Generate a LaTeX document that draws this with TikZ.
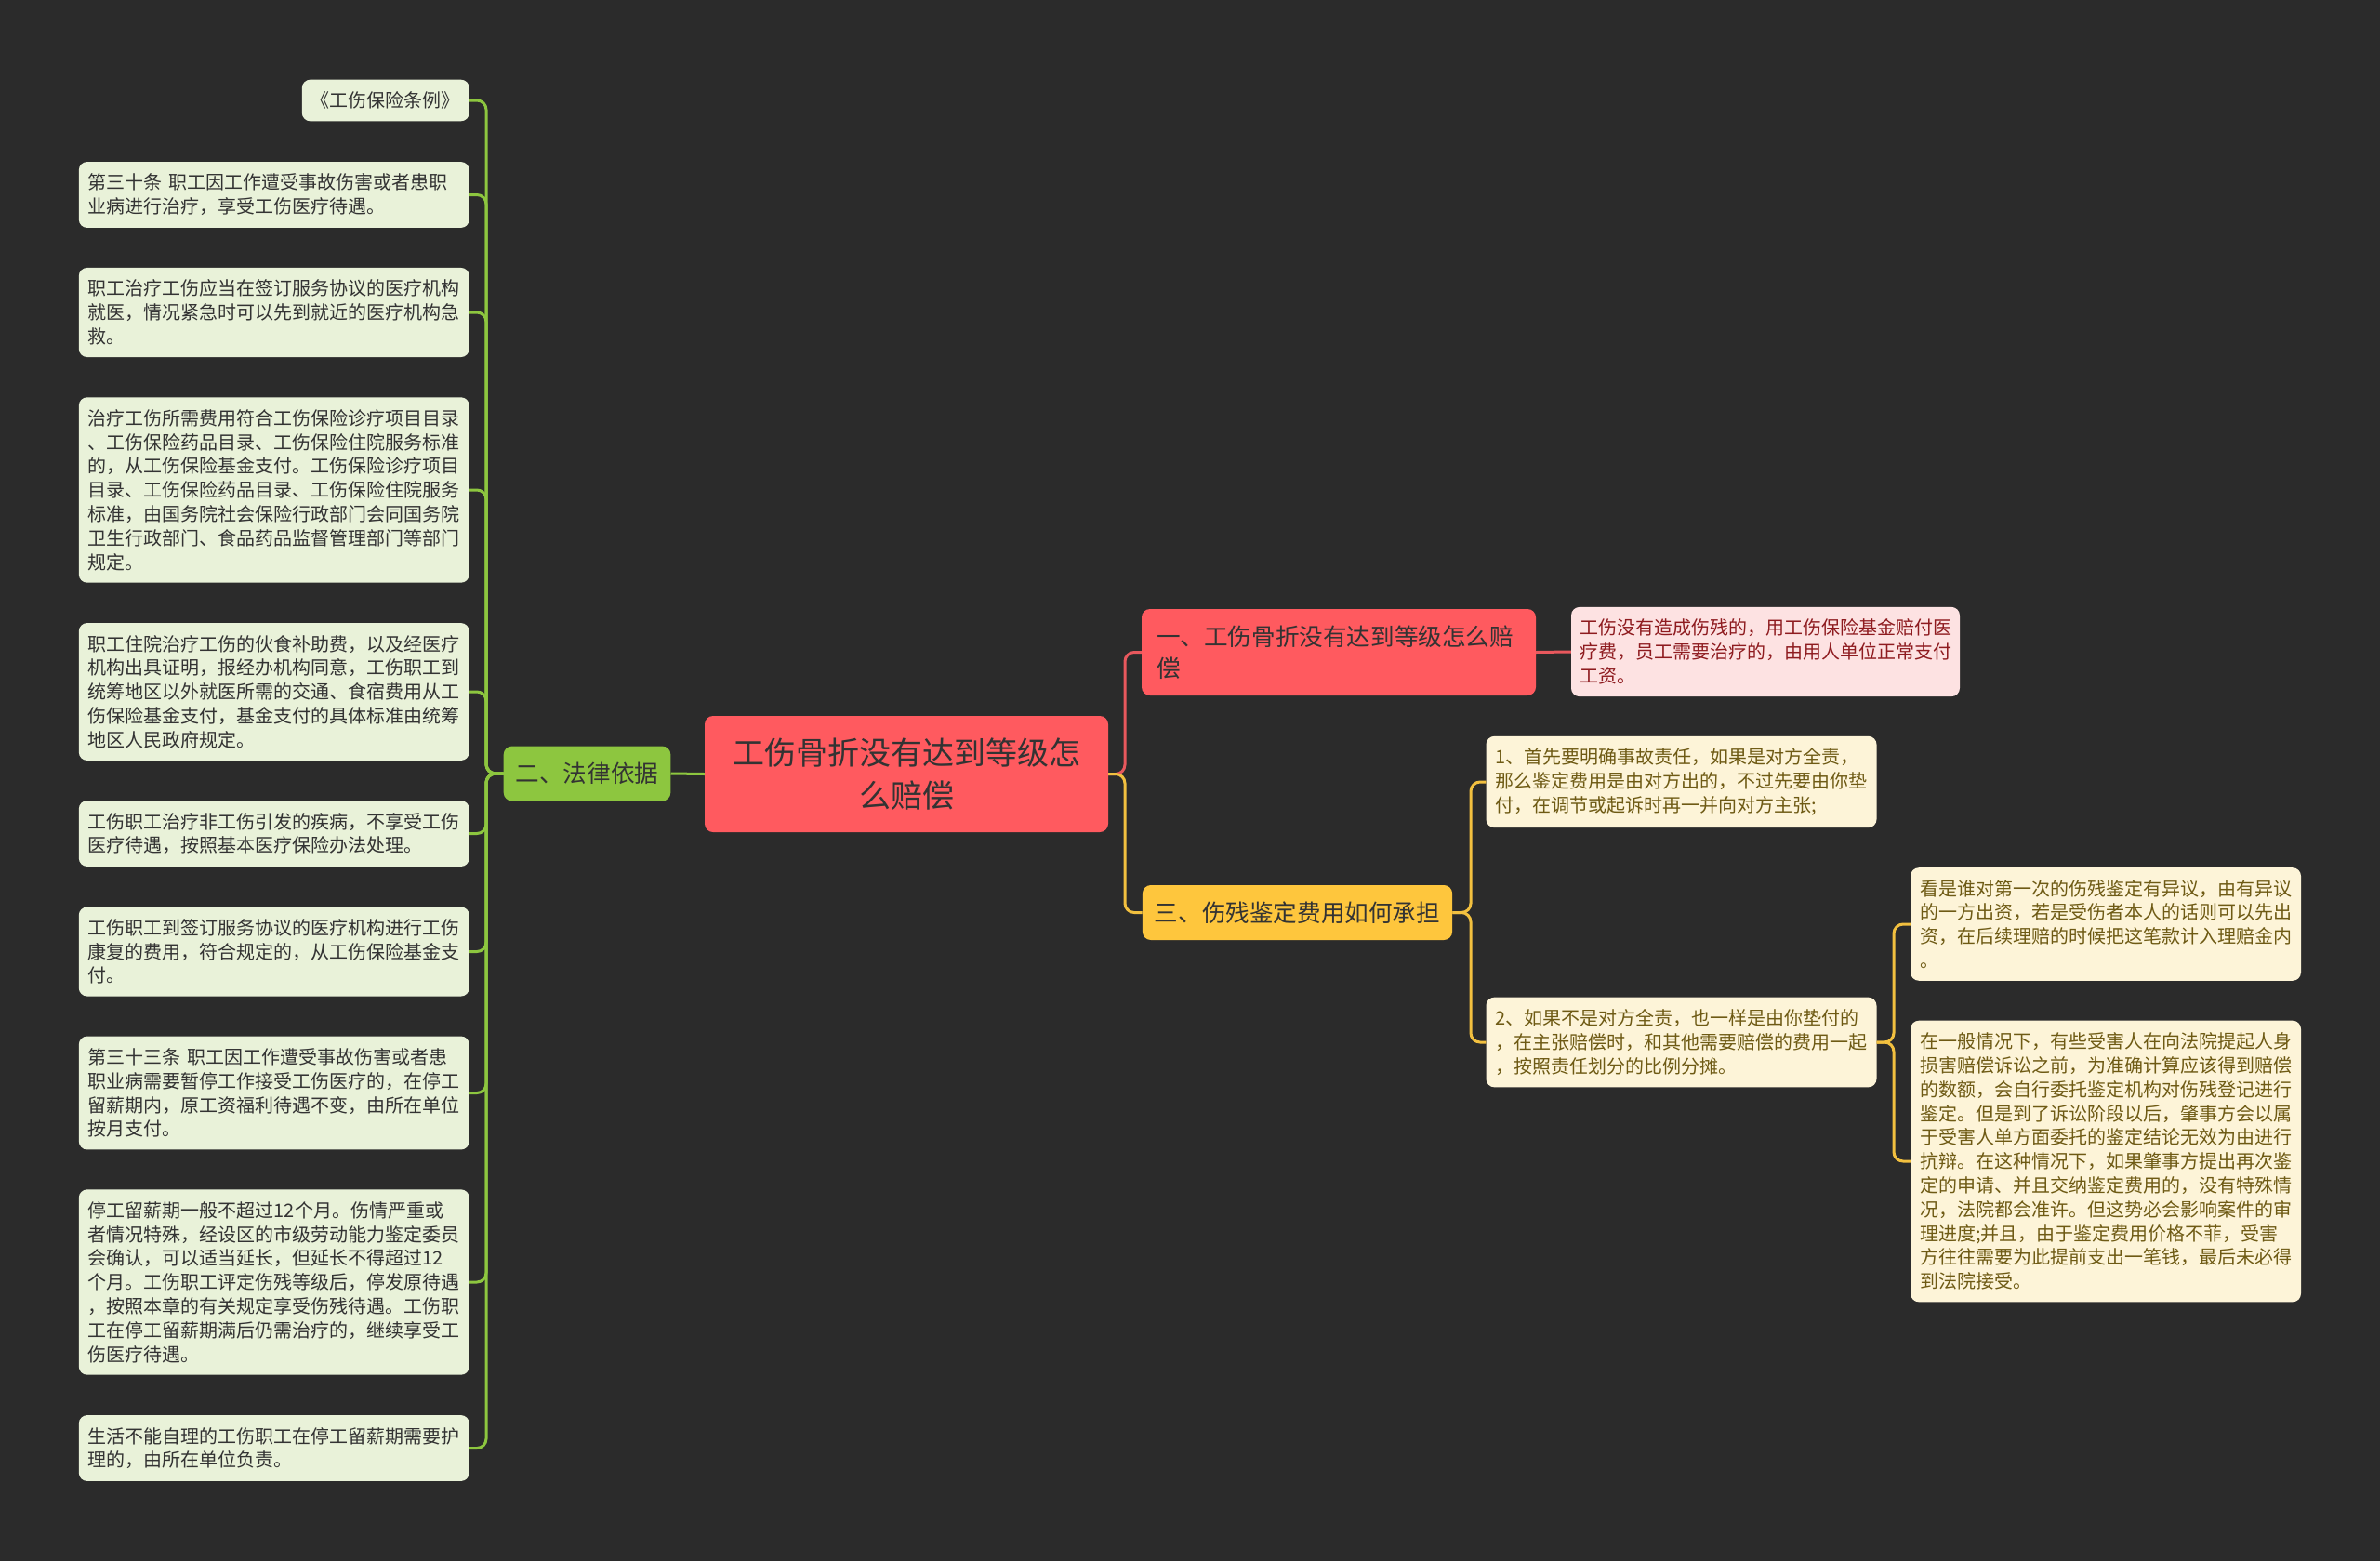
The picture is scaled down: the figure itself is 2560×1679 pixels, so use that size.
\documentclass[tikz,border=0pt]{standalone}
\usepackage{fontspec}
\setmainfont{Noto Sans CJK SC}
\definecolor{fondo}{HTML}{2B2B2B}
\definecolor{verde}{HTML}{8DC63F}
\definecolor{verdeclaro}{HTML}{E9F2D9}
\definecolor{rojo}{HTML}{FF5A5F}
\definecolor{rojolinea}{HTML}{E8585D}
\definecolor{rosa}{HTML}{FDE2E2}
\definecolor{rojotexto}{HTML}{8E1B1F}
\definecolor{amarillo}{HTML}{FEC63D}
\definecolor{amarilloclaro}{HTML}{FDF4D8}
\definecolor{amarillolinea}{HTML}{F2C03F}
\definecolor{ocre}{HTML}{6E5A14}
\definecolor{oscuro}{HTML}{333333}
\begin{document}
\begin{tikzpicture}[x=1pt, y=-1pt,
    base/.style={rounded corners=9pt, align=left, inner xsep=10pt, inner ysep=13pt, font=\fontsize{20}{25.8}\selectfont},
    caja/.style={base, text width=400pt},
    hojaverde/.style={caja, fill=verdeclaro, text=oscuro, anchor=east},
    hojaamarilla/.style={caja, fill=amarilloclaro, text=ocre},
    rama/.style={rounded corners=9pt, inner xsep=13pt, minimum height=59pt, text=oscuro, font=\fontsize{25.6}{34}\selectfont},
    linea/.style={line width=3pt, rounded corners=10pt}]

        % Fondo y margenes
        \fill[fondo] (0,0) rectangle (2560,1679);
        \useasboundingbox (0,0) rectangle (2560,1679);

        % Tema central
        \node[fill=rojo, text=oscuro, rounded corners=9pt, align=center, minimum width=434pt, minimum height=125pt, font=\fontsize{34}{46.7}\selectfont] (tema) at (975,832.5) {工伤骨折没有达到等级怎\\么赔偿};

        % Rama izquierda: legislacion
        \node[rama, fill=verde] (ley) at (631.5,832) {二、法律依据};
        \coordinate (troncoI) at (523,832);

        \node[base, fill=verdeclaro, text=oscuro, anchor=east] (h1) at (505,108) {《工伤保险条例》};
        \node[hojaverde] (h2) at (505,209.5) {第三十条 职工因工作遭受事故伤害或者患职\\业病进行治疗，享受工伤医疗待遇。};
        \node[hojaverde] (h3) at (505,336) {职工治疗工伤应当在签订服务协议的医疗机构\\就医，情况紧急时可以先到就近的医疗机构急\\救。};
        \node[hojaverde] (h4) at (505,527) {治疗工伤所需费用符合工伤保险诊疗项目目录\\、工伤保险药品目录、工伤保险住院服务标准\\的，从工伤保险基金支付。工伤保险诊疗项目\\目录、工伤保险药品目录、工伤保险住院服务\\标准，由国务院社会保险行政部门会同国务院\\卫生行政部门、食品药品监督管理部门等部门\\规定。};
        \node[hojaverde] (h5) at (505,744) {职工住院治疗工伤的伙食补助费，以及经医疗\\机构出具证明，报经办机构同意，工伤职工到\\统筹地区以外就医所需的交通、食宿费用从工\\伤保险基金支付，基金支付的具体标准由统筹\\地区人民政府规定。};
        \node[hojaverde] (h6) at (505,896.5) {工伤职工治疗非工伤引发的疾病，不享受工伤\\医疗待遇，按照基本医疗保险办法处理。};
        \node[hojaverde] (h7) at (505,1023.5) {工伤职工到签订服务协议的医疗机构进行工伤\\康复的费用，符合规定的，从工伤保险基金支\\付。};
        \node[hojaverde] (h8) at (505,1175.5) {第三十三条 职工因工作遭受事故伤害或者患\\职业病需要暂停工作接受工伤医疗的，在停工\\留薪期内，原工资福利待遇不变，由所在单位\\按月支付。};
        \node[hojaverde] (h9) at (505,1379) {停工留薪期一般不超过12个月。伤情严重或\\者情况特殊，经设区的市级劳动能力鉴定委员\\会确认，可以适当延长，但延长不得超过12\\个月。工伤职工评定伤残等级后，停发原待遇\\，按照本章的有关规定享受伤残待遇。工伤职\\工在停工留薪期满后仍需治疗的，继续享受工\\伤医疗待遇。};
        \node[hojaverde] (h10) at (505,1557.5) {生活不能自理的工伤职工在停工留薪期需要护\\理的，由所在单位负责。};

        \draw[linea, verde] (tema.west) -- (ley.east);
        \draw[linea, verde] (ley.west) -- (troncoI) |- (h1.east);
        \draw[linea, verde] (ley.west) -- (troncoI) |- (h2.east);
        \draw[linea, verde] (ley.west) -- (troncoI) |- (h3.east);
        \draw[linea, verde] (ley.west) -- (troncoI) |- (h4.east);
        \draw[linea, verde] (ley.west) -- (troncoI) |- (h5.east);
        \draw[linea, verde] (ley.west) -- (troncoI) |- (h6.east);
        \draw[linea, verde] (ley.west) -- (troncoI) |- (h7.east);
        \draw[linea, verde] (ley.west) -- (troncoI) |- (h8.east);
        \draw[linea, verde] (ley.west) -- (troncoI) |- (h9.east);
        \draw[linea, verde] (ley.west) -- (troncoI) |- (h10.east);

        % Rama derecha superior: indemnizacion
        \coordinate (troncoD) at (1210,832.5);
        \node[rama, fill=rojo, align=left, text width=392pt, inner xsep=16pt, minimum height=93pt] (uno) at (1440,701.5) {一、工伤骨折没有达到等级怎么赔\\偿};
        \node[caja, fill=rosa, text=rojotexto, inner xsep=9pt] (nota) at (1899,701) {工伤没有造成伤残的，用工伤保险基金赔付医\\疗费，员工需要治疗的，由用人单位正常支付\\工资。};
        \draw[linea, rojolinea] (tema.east) -- (troncoD) |- (uno.west);
        \draw[linea, rojolinea] (uno.east) -- (nota.west);

        % Rama derecha inferior: gastos de peritaje
        \node[rama, fill=amarillo] (tres) at (1395.5,981.5) {三、伤残鉴定费用如何承担};
        \coordinate (troncoT) at (1582,981.5);
        \node[hojaamarilla] (y1) at (1808.5,841) {1、首先要明确事故责任，如果是对方全责，\\那么鉴定费用是由对方出的，不过先要由你垫\\付，在调节或起诉时再一并向对方主张;};
        \node[hojaamarilla] (y2) at (1808.5,1121) {2、如果不是对方全责，也一样是由你垫付的\\，在主张赔偿时，和其他需要赔偿的费用一起\\，按照责任划分的比例分摊。};
        \coordinate (troncoY) at (2037,1121);
        \node[hojaamarilla] (g1) at (2265,994) {看是谁对第一次的伤残鉴定有异议，由有异议\\的一方出资，若是受伤者本人的话则可以先出\\资，在后续理赔的时候把这笔款计入理赔金内\\。};
        \node[hojaamarilla] (g2) at (2265,1249) {在一般情况下，有些受害人在向法院提起人身\\损害赔偿诉讼之前，为准确计算应该得到赔偿\\的数额，会自行委托鉴定机构对伤残登记进行\\鉴定。但是到了诉讼阶段以后，肇事方会以属\\于受害人单方面委托的鉴定结论无效为由进行\\抗辩。在这种情况下，如果肇事方提出再次鉴\\定的申请、并且交纳鉴定费用的，没有特殊情\\况，法院都会准许。但这势必会影响案件的审\\理进度;并且，由于鉴定费用价格不菲，受害\\方往往需要为此提前支出一笔钱，最后未必得\\到法院接受。};

        \draw[linea, amarillolinea] (tema.east) -- (troncoD) |- (tres.west);
        \draw[linea, amarillolinea] (tres.east) -- (troncoT) |- (y1.west);
        \draw[linea, amarillolinea] (tres.east) -- (troncoT) |- (y2.west);
        \draw[linea, amarillolinea] (y2.east) -- (troncoY) |- (g1.west);
        \draw[linea, amarillolinea] (y2.east) -- (troncoY) |- (g2.west);

\end{tikzpicture}
\end{document}
